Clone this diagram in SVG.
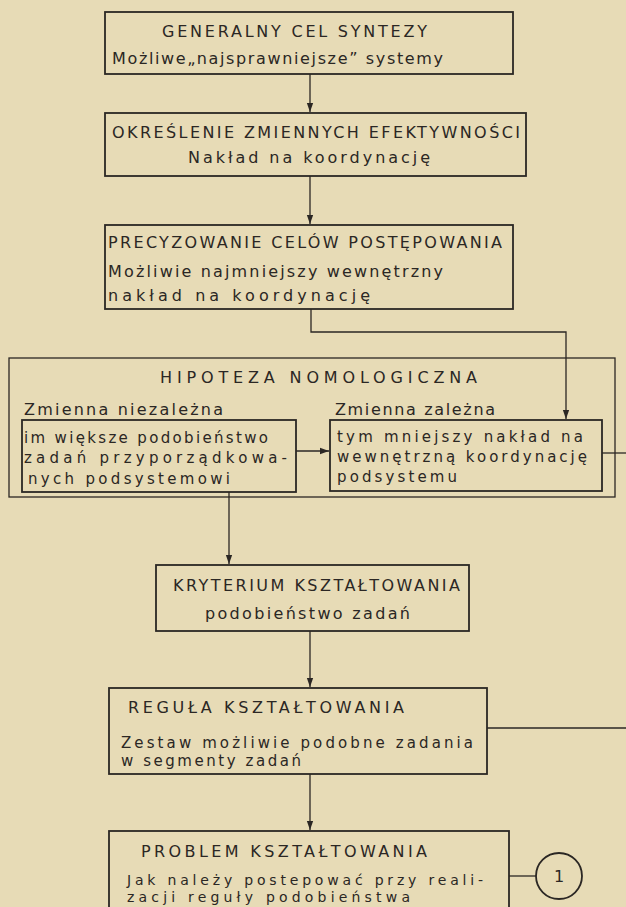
<svg xmlns="http://www.w3.org/2000/svg" width="626" height="907" viewBox="0 0 626 907">
<defs>
<style>
.box{fill:none;stroke:#2b2724;stroke-width:1.8}
.ln{fill:none;stroke:#2b2724;stroke-width:1.3}
text{font-family:"DejaVu Sans","Liberation Sans",sans-serif;font-size:16px;fill:#2b2724}
.sm{font-size:15px}
.xs{font-size:14px}
</style>
<marker id="ah" viewBox="0 0 10 10" refX="10" refY="5" markerWidth="9" markerHeight="9" markerUnits="userSpaceOnUse" orient="auto">
<path d="M0,1.5 L10,5 L0,8.5 Z" fill="#2b2724"/>
</marker>
</defs>
<rect x="0" y="0" width="626" height="907" fill="#e7dbb6"/>

<g id="connectors">
<line class="ln" x1="310" y1="74" x2="310" y2="112" marker-end="url(#ah)"/>
<line class="ln" x1="310" y1="176" x2="310" y2="224" marker-end="url(#ah)"/>
<polyline class="ln" points="311,309 311,332 566,332 566,419" marker-end="url(#ah)"/>
<line class="ln" x1="296" y1="451" x2="329" y2="451" marker-end="url(#ah)"/>
<line class="ln" x1="602" y1="453" x2="626" y2="453"/>
<line class="ln" x1="229" y1="492" x2="229" y2="564" marker-end="url(#ah)"/>
<line class="ln" x1="310" y1="631" x2="310" y2="687" marker-end="url(#ah)"/>
<line class="ln" x1="487" y1="728" x2="626" y2="728"/>
<line class="ln" x1="310" y1="774" x2="310" y2="830" marker-end="url(#ah)"/>
<line class="ln" x1="509" y1="876" x2="536" y2="876"/>
</g>

<g id="n1">
<rect class="box" x="105" y="12" width="408" height="62"/>
<text x="162" y="37" textLength="265">GENERALNY CEL SYNTEZY</text>
<text x="112" y="64" textLength="331">Możliwe„najsprawniejsze” systemy</text>
</g>

<g id="n2">
<rect class="box" x="105" y="113" width="421" height="63"/>
<text x="112" y="138" textLength="408">OKREŚLENIE ZMIENNYCH EFEKTYWNOŚCI</text>
<text x="188" y="163" textLength="242">Nakład na koordynację</text>
</g>

<g id="n3">
<rect class="box" x="105" y="225" width="408" height="84"/>
<text x="108" y="248" textLength="394">PRECYZOWANIE CELÓW POSTĘPOWANIA</text>
<text x="108" y="277" textLength="335">Możliwie najmniejszy wewnętrzny</text>
<text x="108" y="301" textLength="262">nakład na koordynację</text>
</g>

<g id="hipoteza">
<rect class="ln" x="9" y="358" width="606" height="139"/>
<text x="160" y="383" textLength="317">HIPOTEZA NOMOLOGICZNA</text>
<text x="24" y="415" textLength="199">Zmienna niezależna</text>
<text x="335" y="415" textLength="160">Zmienna zależna</text>
</g>

<g id="n4">
<rect class="box" x="22" y="420" width="274" height="72"/>
<text class="sm" x="24" y="443" textLength="244">im większe podobieństwo</text>
<text class="sm" x="24" y="463" textLength="263">zadań przyporządkowa-</text>
<text class="sm" x="28" y="484" textLength="202">nych podsystemowi</text>
</g>

<g id="n5">
<rect class="box" x="330" y="420" width="272" height="71"/>
<text class="sm" x="337" y="442" textLength="246">tym mniejszy nakład na</text>
<text class="sm" x="337" y="462" textLength="250">wewnętrzną koordynację</text>
<text class="sm" x="337" y="482" textLength="120">podsystemu</text>
</g>

<g id="n6">
<rect class="box" x="156" y="565" width="313" height="66"/>
<text x="173" y="591" textLength="287">KRYTERIUM KSZTAŁTOWANIA</text>
<text x="205" y="619" textLength="205">podobieństwo zadań</text>
</g>

<g id="n7">
<rect class="box" x="109" y="688" width="378" height="86"/>
<text x="128" y="713" textLength="276">REGUŁA KSZTAŁTOWANIA</text>
<text class="sm" x="121" y="748" textLength="352">Zestaw możliwie podobne zadania</text>
<text class="sm" x="121" y="766" textLength="180">w segmenty zadań</text>
</g>

<g id="n8">
<rect class="box" x="109" y="831" width="400" height="90"/>
<text x="141" y="857" textLength="286">PROBLEM KSZTAŁTOWANIA</text>
<text class="xs" x="127" y="885" textLength="356">Jak należy postepować przy reali-</text>
<text class="xs" x="127" y="902" textLength="283">zacji reguły podobieństwa</text>
</g>

<g id="c1">
<circle class="box" cx="559" cy="876" r="23"/>
<text x="559" y="882" text-anchor="middle">1</text>
</g>
</svg>
